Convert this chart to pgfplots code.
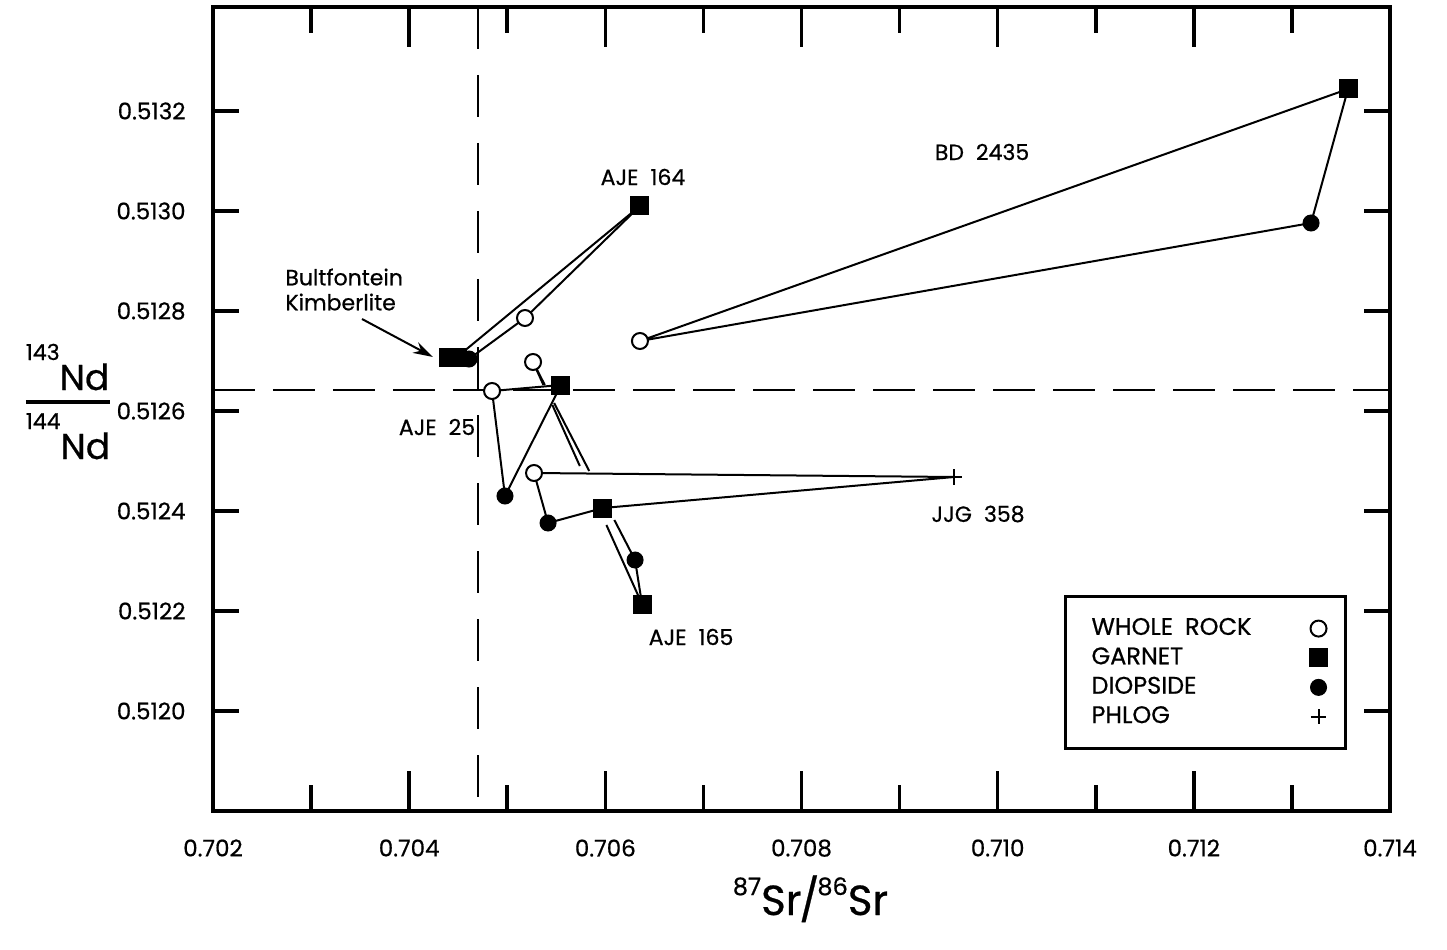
\documentclass[border=0pt]{standalone}
\usepackage{fontspec}
\setmainfont{Poppins}[UprightFeatures={FakeBold=0.6}]
\usepackage{pgfplots}
\pgfplotsset{compat=1.18}
\usetikzlibrary{arrows.meta}
\setlength{\arrayrulewidth}{2pt}
\begin{document}
\begin{tikzpicture}
\begin{axis}[
  scale only axis,
  width=588.5pt, height=402pt,
  xmin=0.702, xmax=0.714, ymin=0.5118, ymax=0.513408,
  axis line style={line width=2pt},
  xtick={0.702,0.704,0.706,0.708,0.710,0.712,0.714},
  minor xtick={0.703,0.705,0.707,0.709,0.711,0.713},
  ytick={0.5120,0.5122,0.5124,0.5126,0.5128,0.5130,0.5132},
  minor ytick={0.5120,0.5122,0.5124,0.5126,0.5128,0.5130,0.5132},
  major y tick style={draw=none},
  major tick length=20pt, minor tick length=13pt,
  tick style={line width=1.8pt, black},
  tick align=inside,
  scaled ticks=false,
  /pgf/number format/assume math mode=true,
  x tick label style={font=\fontsize{11.5}{13}\selectfont, yshift=-10.7pt,
    /pgf/number format/fixed, /pgf/number format/fixed zerofill, /pgf/number format/precision=3},
  y tick label style={font=\fontsize{11.5}{13}\selectfont, xshift=-10.2pt,
    /pgf/number format/fixed, /pgf/number format/fixed zerofill, /pgf/number format/precision=4},
  every axis x label/.style={at={(rel axis cs:0.5,0)}, anchor=base, xshift=4.5pt, yshift=-52pt},
  every axis y label/.style={at={(rel axis cs:0,0.5)}, anchor=center, xshift=-72.5pt, yshift=2pt},
  xlabel={\fontsize{21}{24}\selectfont\raisebox{10pt}{\fontsize{12}{12}\selectfont 87}Sr\kern-1pt/\kern-1pt\raisebox{10pt}{\fontsize{12}{12}\selectfont 86}Sr},
  ylabel={\begin{tabular}{@{}l@{}}\rule[-5pt]{0pt}{5pt}\raisebox{15pt}{\fontsize{11}{11}\selectfont 143}\fontsize{18}{18}\selectfont Nd\\\hline\rule{0pt}{27.5pt}\raisebox{15pt}{\fontsize{11}{11}\selectfont 144}\fontsize{18}{18}\selectfont Nd\end{tabular}},
  legend plot pos=right,
  legend cell align=left,
  legend image code/.code={\draw[#1] plot coordinates {(0pt,0pt)};},
  legend style={at={(rel axis cs:0.9635,0.0759)}, anchor=south east, draw=black, line width=1.5pt,
    inner sep=9pt, font=\fontsize{12}{14}\selectfont,
    nodes={inner xsep=4pt, inner ysep=1.5pt, text height=8.5pt, text depth=2.2pt},
    row sep=1pt, column sep=0pt},
  tie/.style={forget plot, black, line width=1pt, mark=none},
]
\coordinate (sw) at (rel axis cs:0,0);
\coordinate (ne) at (rel axis cs:1,1);
% reference lines
\addplot[forget plot, black, line width=1.2pt, dash pattern=on 21pt off 9pt] coordinates {(0.702,0.512642) (0.714,0.512642)};
\addplot[forget plot, black, line width=1.2pt, dash pattern=on 21pt off 13pt] coordinates {(0.704702,0.513408) (0.704702,0.5118)};
% AJE 164
\addplot[tie] coordinates {(0.706353,0.513010) (0.704488,0.512708)};
\addplot[tie] coordinates {(0.706353,0.513010) (0.705181,0.512786) (0.704610,0.512704)};
% BD 2435
\addplot[tie] coordinates {(0.706353,0.512740) (0.713572,0.513244) (0.713195,0.512976) (0.706353,0.512740)};
% AJE 25
\addplot[tie] coordinates {(0.704845,0.512640) (0.705548,0.512652) (0.704977,0.512430) (0.704845,0.512640)};
% AJE 165 (broken where crossing)
\addplot[tie, unbounded coords=jump] coordinates {(0.705263,0.512698) (0.705369,0.512652) (nan,nan) (0.705460,0.512612) (0.705740,0.512490) (nan,nan) (0.706011,0.512372) (0.706374,0.512214)};
\addplot[tie, unbounded coords=jump] coordinates {(0.705263,0.512698) (0.705383,0.512652) (nan,nan) (0.705478,0.512616) (0.705836,0.512480) (nan,nan) (0.706092,0.512382) (0.706303,0.512302)};
\addplot[tie] coordinates {(0.706303,0.512302) (0.706374,0.512214)};
% JJG 358
\addplot[tie] coordinates {(0.705273,0.512476) (0.709555,0.512468) (0.705976,0.512406) (0.705416,0.512376) (0.705273,0.512476)};
% markers
\addplot[only marks, mark=*, mark size=4pt, mark options={fill=white, draw=black, line width=1pt}]
  coordinates {(0.705181,0.512786) (0.706353,0.512740) (0.704845,0.512640) (0.705263,0.512698) (0.705273,0.512476)};
\addlegendentry{\makebox[105pt][l]{WHOLE\hspace{6pt}ROCK}}
\addplot[only marks, mark=square*, mark size=4.5pt, mark options={fill=black, draw=black, line width=0.5pt}]
  coordinates {(0.704406,0.512708) (0.704488,0.512708) (0.706353,0.513010) (0.713572,0.513244) (0.705548,0.512652) (0.706374,0.512214) (0.705976,0.512406)};
\addlegendentry{\makebox[105pt][l]{GARNET}}
\addplot[only marks, mark=*, mark size=4pt, mark options={fill=black, draw=black, line width=0.5pt}]
  coordinates {(0.704610,0.512704) (0.713195,0.512976) (0.704977,0.512430) (0.706303,0.512302) (0.705416,0.512376)};
\addlegendentry{\makebox[105pt][l]{DIOPSIDE}}
\addplot[only marks, mark=+, mark size=3.8pt, mark options={draw=black, line width=1pt}]
  coordinates {(0.709555,0.512468)};
\addlegendentry{\makebox[105pt][l]{PHLOG}}
% annotations
\node[font=\fontsize{11}{13}\selectfont] at (axis cs:0.706384,0.513068) {AJE\hspace{6pt}164};
\node[font=\fontsize{11}{13}\selectfont] at (axis cs:0.709841,0.513118) {BD\hspace{6pt}2435};
\node[font=\fontsize{11}{13}\selectfont] at (axis cs:0.709800,0.512394) {JJG\hspace{6pt}358};
\node[font=\fontsize{11}{13}\selectfont] at (axis cs:0.706874,0.512148) {AJE\hspace{6pt}165};
\node[font=\fontsize{11}{13}\selectfont] at (axis cs:0.704284,0.512568) {AJE\hspace{6pt}25};
\node[font=\fontsize{11}{12.5}\selectfont, anchor=west, align=left, inner sep=0pt] at (axis cs:0.702734,0.512843) {Bultfontein\\Kimberlite};
\draw[-{Stealth[length=10pt,width=6pt]}, line width=1pt] (axis cs:0.703519,0.512784) -- (axis cs:0.704243,0.512708);
\end{axis}
\path ([xshift=-106.5pt,yshift=-69pt]sw) rectangle ([xshift=28.5pt,yshift=3.5pt]ne);
\end{tikzpicture}
\end{document}
